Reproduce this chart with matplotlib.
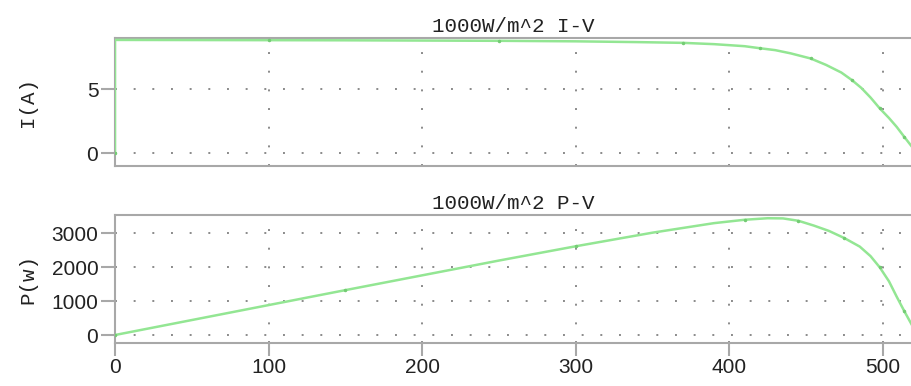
import matplotlib.pyplot as plt
import numpy as np

# I-V curve
v_iv = [0, 0, 50, 100, 150, 200, 250, 300, 340, 370, 390, 410, 420, 430, 440, 453, 463, 473, 480, 486, 492, 498, 504, 509, 514, 519]
i_iv = [0, 8.85, 8.84, 8.83, 8.82, 8.80, 8.78, 8.74, 8.68, 8.62, 8.52, 8.36, 8.2, 8.05, 7.8, 7.4, 6.9, 6.3, 5.7, 5.1, 4.35, 3.5, 2.75, 2.06, 1.27, 0.5]

# P-V curve
v_pv = [0, 50, 100, 150, 200, 250, 300, 350, 390, 410, 425, 435, 445, 455, 465, 475, 485, 492, 498, 504, 509, 514, 519]
p_pv = [0, 440, 880, 1320, 1755, 2190, 2610, 3010, 3290, 3390, 3435, 3430, 3360, 3220, 3060, 2850, 2600, 2320, 1990, 1580, 1130, 700, 290]

xticks = [0, 100, 200, 300, 400, 500]
iticks = [0, 5]
pticks = [0, 1000, 2000, 3000]

green = '#93e693'
spine_c = '#a8a8a8'
title_font = dict(family='Liberation Mono', size=15, color='#222222')
label_font = dict(family='Liberation Mono', size=15, color='#222222')
tick_font = 'Liberation Sans'

fig = plt.figure(figsize=(9.12, 3.86), dpi=100)
ax1 = fig.add_axes([115/912, 1-166/386, 1-115/912, 128/386])
ax2 = fig.add_axes([115/912, 1-343/386, 1-115/912, 128/386])

ax1.plot(v_iv, i_iv, '-', color=green, lw=1.8, marker='o', ms=1.5,
         mfc='#74cc74', mec='#74cc74', zorder=3, markevery=3)
ax2.plot(v_pv, p_pv, '-', color=green, lw=1.8, marker='o', ms=1.5,
         mfc='#74cc74', mec='#74cc74', zorder=3, markevery=3)

ax1.set_ylim(-1.0, 9.0)
ax2.set_ylim(-235, 3530)
ax1.set_yticks(iticks)
ax2.set_yticks(pticks)

for ax in (ax1, ax2):
    ax.set_xlim(0, 519)
    ax.set_xticks(xticks)
    ax.grid(True, color='#8a8a8a', linestyle=(0, (1, 8.6)), linewidth=1.4)
    ax.spines['right'].set_visible(False)
    for s in ('left', 'top', 'bottom'):
        ax.spines[s].set_color(spine_c)
        ax.spines[s].set_linewidth(1.5)
    ax.tick_params(axis='y', length=10, width=1.5, color=spine_c, pad=2, labelsize=15)
    ax.tick_params(axis='x', length=9, width=1.5, color=spine_c, pad=2, labelsize=15)
    for lab in ax.get_xticklabels() + ax.get_yticklabels():
        lab.set_family(tick_font)
        lab.set_color('#222222')

ax1.tick_params(axis='x', length=0, labelbottom=False)

ax1.set_title('1000W/m^2 I-V', fontdict=title_font, pad=4)
ax2.set_title('1000W/m^2 P-V', fontdict=title_font, pad=4)
ax1.set_ylabel('I(A)', fontdict=label_font)
ax2.set_ylabel('P(w)', fontdict=label_font)
ax1.yaxis.set_label_coords(-0.098, 0.5)
ax2.yaxis.set_label_coords(-0.098, 0.5)

fig.savefig('out.png', dpi=100)
